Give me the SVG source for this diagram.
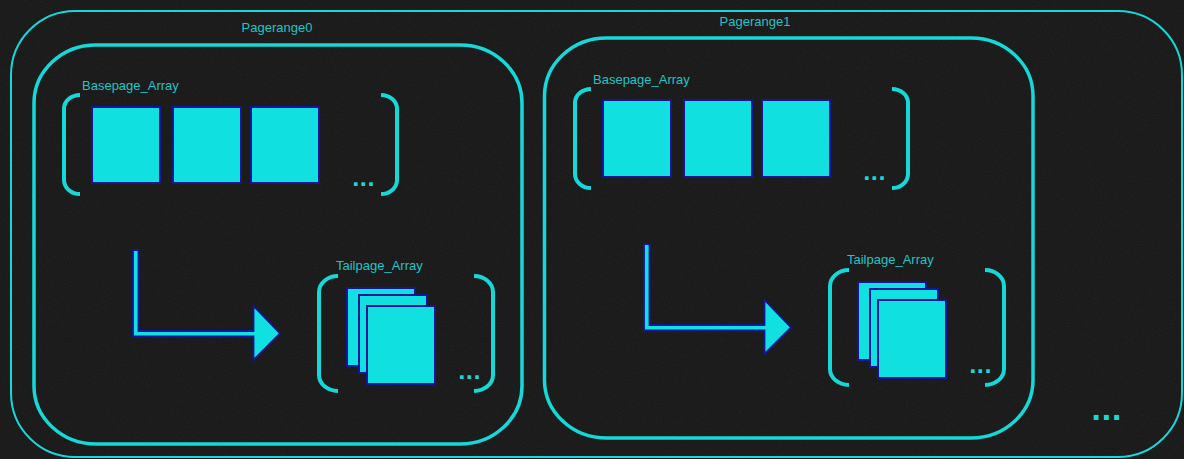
<svg xmlns="http://www.w3.org/2000/svg" width="1184" height="459" viewBox="0 0 1184 459">
  <defs>
    <filter id="noise" x="0" y="0" width="100%" height="100%">
      <feTurbulence type="fractalNoise" baseFrequency="0.9" numOctaves="2" seed="3" result="t"/>
      <feColorMatrix type="matrix" values="0 0 0 0 1  0 0 0 0 1  0 0 0 0 1  0 0 0 0.06 0"/>
    </filter>
  </defs>
  <style>
    .frame { fill: none; stroke: #17d8d8; }
    .range { fill: none; stroke: #17d8d8; stroke-width: 3.5; }
    .bracket { fill: none; stroke: #17d8d8; stroke-width: 4; }
    .page { fill: #10e0e0; stroke: #15159a; stroke-width: 2; }
    .arrow { fill: #10e0e0; stroke: #15159a; stroke-width: 1.8; stroke-linejoin: miter; }
    .label { font-family: "Liberation Sans", Arial, sans-serif; font-size: 13px; fill: #22c4c4; }
    .dots { font-family: "DejaVu Sans", sans-serif; font-weight: bold; fill: #17d8d8; }
  </style>
  <rect width="1184" height="459" fill="#151515"/>
  <rect width="1184" height="459" filter="url(#noise)"/>

  <g id="outer">
    <rect class="frame" x="11" y="11" width="1171" height="446" rx="64" ry="64" stroke-width="2"/>
    <text class="dots" x="1091" y="420" font-size="27">...</text>
  </g>

  <g id="pagerange0">
    <text class="label" x="277" y="32" text-anchor="middle">Pagerange0</text>
    <rect class="range" x="34" y="45" width="488" height="399" rx="62" ry="58"/>
  </g>
  <g id="basepage0">
    <text class="label" x="82" y="90">Basepage_Array</text>
    <path class="bracket" d="M80 95 A16 14 0 0 0 64 109 V180 A16 14 0 0 0 80 194"/>
    <path class="bracket" d="M381 95 A16 14 0 0 1 397 109 V180 A16 14 0 0 1 381 194"/>
    <rect class="page" x="92" y="107" width="68" height="76"/>
    <rect class="page" x="173" y="107" width="68" height="76"/>
    <rect class="page" x="251" y="107" width="68" height="76"/>
    <text class="dots" x="352" y="186" font-size="20">...</text>
  </g>
  <g id="tailpage0">
    <text class="label" x="336" y="270">Tailpage_Array</text>
    <path class="bracket" d="M338 276 A19 16 0 0 0 319 292 V375 A19 16 0 0 0 338 391"/>
    <path class="bracket" d="M474 276 A19 16 0 0 1 493 292 V375 A19 16 0 0 1 474 391"/>
    <rect class="page" x="347" y="288" width="68" height="78"/>
    <rect class="page" x="359" y="295" width="68" height="78"/>
    <rect class="page" x="367" y="306" width="68" height="78"/>
    <text class="dots" x="458" y="379" font-size="20">...</text>
  </g>

  <g id="pagerange1">
    <text class="label" x="755" y="26" text-anchor="middle">Pagerange1</text>
    <rect class="range" x="544.5" y="38" width="488.5" height="400" rx="62" ry="58"/>
  </g>
  <g id="basepage1">
    <text class="label" x="593" y="84">Basepage_Array</text>
    <path class="bracket" d="M591 89 A16 14 0 0 0 575 103 V174 A16 14 0 0 0 591 188"/>
    <path class="bracket" d="M892 89 A16 14 0 0 1 908 103 V174 A16 14 0 0 1 892 188"/>
    <rect class="page" x="603" y="100" width="68" height="77"/>
    <rect class="page" x="684" y="100" width="68" height="77"/>
    <rect class="page" x="762" y="100" width="68" height="77"/>
    <text class="dots" x="863" y="180" font-size="20">...</text>
  </g>
  <g id="tailpage1">
    <text class="label" x="847" y="264">Tailpage_Array</text>
    <path class="bracket" d="M849 270 A19 16 0 0 0 830 286 V369 A19 16 0 0 0 849 385"/>
    <path class="bracket" d="M985 270 A19 16 0 0 1 1004 286 V369 A19 16 0 0 1 985 385"/>
    <rect class="page" x="858" y="282" width="68" height="78"/>
    <rect class="page" x="870" y="289" width="68" height="78"/>
    <rect class="page" x="878" y="300" width="68" height="78"/>
    <text class="dots" x="969" y="373" font-size="20">...</text>
  </g>

  <g id="connectors">
    <polygon class="arrow" points="133,250 138.5,250 138.5,331 253.5,331 253.5,306 280,333.5 253.5,360 253.5,336.5 133,336.5"/>
    <polygon class="arrow" points="644,244 649.5,244 649.5,325 764.5,325 764.5,300 791,327.5 764.5,354 764.5,330.5 644,330.5"/>
  </g>
</svg>
